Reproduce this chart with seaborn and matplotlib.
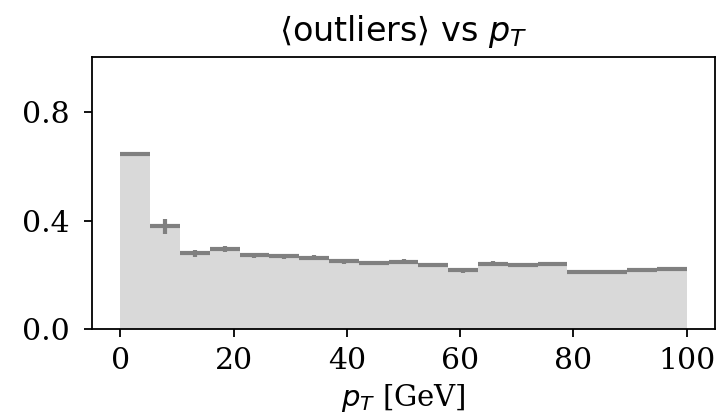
import numpy as np
import pandas as pd
import matplotlib
matplotlib.use("Agg")
import matplotlib.pyplot as plt
import seaborn as sns

# 19 equal-width pT bins between 0 and 100 GeV
bin_edges = list(np.linspace(0, 100, 20))
outlier_mean = [0.645, 0.379, 0.279, 0.294, 0.272, 0.269, 0.263, 0.251, 0.245, 0.249,
                0.236, 0.217, 0.242, 0.236, 0.240, 0.210, 0.211, 0.219, 0.221]
outlier_err = [0.004, 0.027, 0.014, 0.011, 0.010, 0.009, 0.009, 0.009, 0.008, 0.008,
               0.008, 0.008, 0.008, 0.008, 0.008, 0.007, 0.007, 0.007, 0.007]
x_ticks = [0, 20, 40, 60, 80, 100]
y_ticks = [0.0, 0.4, 0.8]

sns.set_theme(style="ticks")
plt.rcParams["font.family"] = ["DejaVu Serif"]
plt.rcParams["mathtext.fontset"] = "dejavusans"
plt.rcParams["axes.linewidth"] = 1.3
plt.rcParams["text.color"] = "black"
plt.rcParams["axes.labelcolor"] = "black"

fill_color = "#d9d9d9"
line_color = "#808080"

edges = np.asarray(bin_edges)
centers = 0.5 * (edges[:-1] + edges[1:])
half_width = 0.5 * np.diff(edges)
df = pd.DataFrame({"pt": centers, "mean": outlier_mean})

fig, ax = plt.subplots(figsize=(7.21, 4.18), dpi=100)
fig.subplots_adjust(left=0.1276, right=0.9917, bottom=0.212, top=0.863)

sns.histplot(data=df, x="pt", weights="mean", bins=bin_edges, element="step",
             fill=True, color=fill_color, alpha=1.0, linewidth=0, ax=ax)
ax.errorbar(centers, outlier_mean, xerr=half_width, yerr=outlier_err, fmt="none",
            ecolor=line_color, elinewidth=3, capsize=0)

ax.set_xlim(-5, 105)
ax.set_ylim(0, 1)
ax.set_xticks(x_ticks)
ax.set_yticks(y_ticks)
ax.set_xticklabels([str(v) for v in x_ticks])
ax.set_yticklabels([f"{v:.1f}" for v in y_ticks])
ax.tick_params(axis="both", labelsize=21.5, length=6, width=1.3, colors="black")
ax.tick_params(axis="y", pad=10)
ax.tick_params(axis="x", pad=7)
for s in ax.spines.values():
    s.set_visible(True)
    s.set_color("black")

ax.set_ylabel("")
ax.set_xlabel(r"$p_T$ [GeV]", fontsize=21, labelpad=5)
ax.set_title(r"$\langle$outliers$\rangle$ vs $p_T$", fontsize=24,
             fontfamily="DejaVu Sans", pad=12, color="black")

fig.savefig("out.png", dpi=100)
